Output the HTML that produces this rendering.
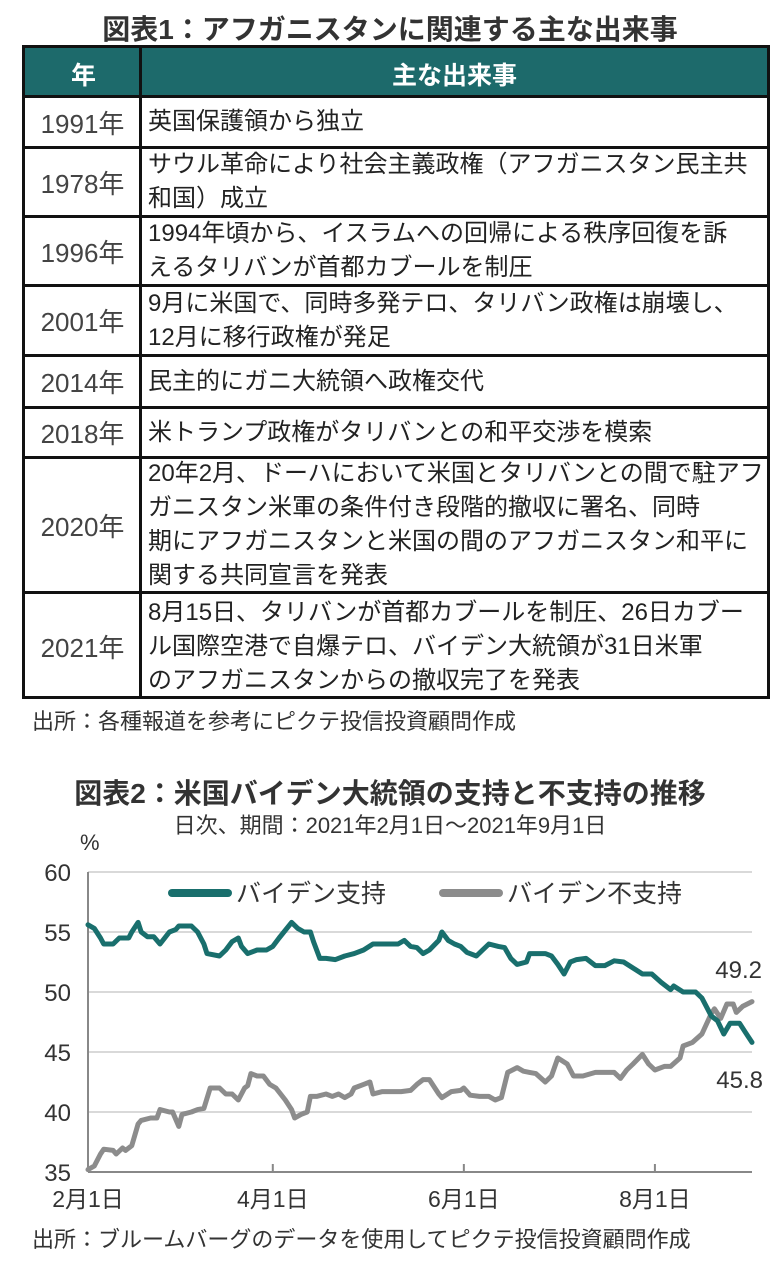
<!DOCTYPE html>
<html><head><meta charset="utf-8">
<style>
body{margin:0;width:780px;height:1266px;background:#fff;position:relative;overflow:hidden;font-family:"Liberation Sans","Noto Sans CJK JP",sans-serif;color:#222}
.t{position:absolute;white-space:nowrap}
.row{position:absolute;left:24px;width:744px;border-bottom:3px solid #111;box-sizing:border-box}
.yr{position:absolute;left:0;top:0;bottom:0;width:117px;display:flex;align-items:center;justify-content:center;font-size:26px;color:#444}
.ev{position:absolute;left:124px;top:0;bottom:0;right:0;display:flex;align-items:center;font-size:24px;line-height:34px;color:#222;white-space:nowrap}
</style></head><body>
<div class="t" style="left:0;width:780px;text-align:center;top:8px;font-size:28px;font-weight:bold;color:#333">図表1：アフガニスタンに関連する主な出来事</div>
<div style="position:absolute;left:22px;top:45px;width:748px;height:654px;border:3px solid #111;box-sizing:border-box"></div>
<div style="position:absolute;left:25px;top:48px;width:742px;height:50px;background:#1d6a6b;border-bottom:3px solid #111;box-sizing:border-box">
 <div class="t" style="left:0;width:117px;text-align:center;top:8px;color:#fff;font-size:25px;font-weight:bold">年</div>
 <div class="t" style="left:117px;right:0;text-align:center;top:8px;color:#fff;font-size:25px;font-weight:bold">主な出来事</div>
</div>
<div style="position:absolute;left:139px;top:45px;width:3px;height:654px;background:#111"></div>
<div class="row" style="top:98px;height:51px"><div class="yr">1991年</div><div class="ev">英国保護領から独立</div></div>
<div class="row" style="top:149px;height:69px"><div class="yr">1978年</div><div class="ev">サウル革命により社会主義政権（アフガニスタン民主共<br>和国）成立</div></div>
<div class="row" style="top:218px;height:69px"><div class="yr">1996年</div><div class="ev">1994年頃から、イスラムへの回帰による秩序回復を訴<br>えるタリバンが首都カブールを制圧</div></div>
<div class="row" style="top:287px;height:70px"><div class="yr">2001年</div><div class="ev">9月に米国で、同時多発テロ、タリバン政権は崩壊し、<br>12月に移行政権が発足</div></div>
<div class="row" style="top:357px;height:52px"><div class="yr">2014年</div><div class="ev">民主的にガニ大統領へ政権交代</div></div>
<div class="row" style="top:409px;height:50px"><div class="yr">2018年</div><div class="ev">米トランプ政権がタリバンとの和平交渉を模索</div></div>
<div class="row" style="top:459px;height:135px"><div class="yr">2020年</div><div class="ev">20年2月、ドーハにおいて米国とタリバンとの間で駐アフ<br>ガニスタン米軍の条件付き段階的撤収に署名、同時<br>期にアフガニスタンと米国の間のアフガニスタン和平に<br>関する共同宣言を発表</div></div>
<div class="row" style="top:594px;height:105px;border-bottom:none"><div class="yr">2021年</div><div class="ev">8月15日、タリバンが首都カブールを制圧、26日カブー<br>ル国際空港で自爆テロ、バイデン大統領が31日米軍<br>のアフガニスタンからの撤収完了を発表</div></div>
<div class="t" style="left:32px;top:704px;font-size:22px;color:#333">出所：各種報道を参考にピクテ投信投資顧問作成</div>

<div class="t" style="left:0;width:780px;text-align:center;top:772px;font-size:28px;font-weight:bold;color:#333">図表2：米国バイデン大統領の支持と不支持の推移</div>
<div class="t" style="left:0;width:780px;text-align:center;top:808px;font-size:22px;color:#333">日次、期間：2021年2月1日～2021年9月1日</div>
<div class="t" style="left:80px;top:830px;font-size:22px;color:#333">%</div>
<svg id="chart" width="780" height="1266" style="position:absolute;left:0;top:0"></svg>
<div class="t" style="left:32px;top:1222px;font-size:22px;color:#333">出所：ブルームバーグのデータを使用してピクテ投信投資顧問作成</div>
<script>
const yTicks=[35,40,45,50,55,60];
const xTickDays=[0,59,120,181];
const xTickLabels=["2月1日","4月1日","6月1日","8月1日"];
const totalDays=212;
const approveDays=[0,2,4,5,8,10,13,14,16,17,19,21,23,26,28,29,33,35,37,38,42,44,46,48,49,51,54,57,59,61,65,67,69,71,72,74,76,79,82,85,88,91,96,99,101,103,105,107,109,112,113,115,117,119,121,124,126,128,131,133,135,137,140,141,146,148,150,152,154,156,159,162,165,168,171,174,177,180,183,186,187,190,194,196,199,201,203,205,208,210,212];
const approveVals=[55.6,55.3,54.5,54.0,54.0,54.5,54.5,55.0,55.8,55.0,54.6,54.6,54.0,55.0,55.2,55.5,55.5,55.0,54.0,53.2,53.0,53.5,54.2,54.5,53.8,53.2,53.5,53.5,53.8,54.5,55.8,55.3,55.0,55.0,54.2,52.8,52.8,52.7,53.0,53.2,53.5,54.0,54.0,54.0,54.3,53.8,53.7,53.2,53.5,54.3,55.0,54.3,54.0,53.8,53.3,53.0,53.5,54.0,53.8,53.7,52.8,52.3,52.5,53.2,53.2,53.0,52.3,51.5,52.5,52.7,52.8,52.2,52.2,52.6,52.5,52.0,51.5,51.5,50.8,50.2,50.5,50.0,50.0,49.5,48.0,47.6,46.5,47.4,47.4,46.6,45.8];
const disDays=[0,2,4,5,8,9,11,12,14,16,17,20,22,23,26,27,29,30,33,35,37,39,42,44,46,48,50,51,52,54,56,58,60,63,65,66,68,70,71,73,76,78,80,82,84,85,88,90,91,94,97,100,103,105,107,109,112,113,116,119,120,122,125,128,130,132,134,137,139,141,143,146,148,150,153,155,158,162,165,168,170,172,174,177,179,181,184,186,189,190,193,196,199,200,202,204,206,207,209,212];
const disVals=[35.2,35.5,36.5,36.9,36.8,36.5,37.0,36.8,37.2,39.0,39.3,39.5,39.5,40.2,40.0,40.0,38.8,39.8,40.0,40.2,40.3,42.0,42.0,41.5,41.5,41.0,42.0,42.2,43.2,43.0,43.0,42.3,42.0,41.0,40.2,39.5,39.8,40.0,41.3,41.3,41.5,41.3,41.5,41.2,41.5,42.0,42.3,42.5,41.5,41.7,41.7,41.7,41.8,42.3,42.7,42.7,41.5,41.2,41.7,41.8,42.0,41.4,41.3,41.3,41.0,41.2,43.3,43.7,43.4,43.3,43.2,42.5,43.0,44.5,44.0,43.0,43.0,43.3,43.3,43.3,42.8,43.5,44.0,44.8,44.0,43.5,43.8,43.8,44.5,45.5,45.8,46.5,48.2,48.6,47.8,49.0,49.0,48.3,48.8,49.2];
const NS="http://www.w3.org/2000/svg";
const svg=document.getElementById('chart');
const X0=88,X1=752,Y0=1172,Y1=872;
const xs=d=>X0+d/totalDays*(X1-X0);
const ys=v=>Y0-(v-35)/25*(Y0-Y1);
function mk(tag,attrs,txt){const e=document.createElementNS(NS,tag);for(const k in attrs)e.setAttribute(k,attrs[k]);if(txt!==undefined)e.textContent=txt;svg.appendChild(e);return e;}
yTicks.forEach(v=>{
  if(v>35){const g=mk('line',{x1:X0,x2:X1,y1:ys(v),y2:ys(v),stroke:'#d9d9d9','stroke-width':2});
  
  }
  const t=mk('text',{x:71,y:ys(v)+9,'text-anchor':'end','font-size':24,fill:'#333','font-family':'Liberation Sans, sans-serif'},String(v));
  
  
});
const ax=mk('line',{x1:X0,x2:X0,y1:Y1,y2:Y0,stroke:'#888','stroke-width':2});


const bx=mk('line',{x1:X0,x2:X1,y1:Y0,y2:Y0,stroke:'#888','stroke-width':2});


xTickDays.forEach((d,i)=>{
  if(i>0){const tk=mk('line',{x1:xs(d),x2:xs(d),y1:Y0,y2:Y0-8,stroke:'#888','stroke-width':2});
  
  }
  const t=mk('text',{x:xs(d),y:Y0+35,'text-anchor':'middle','font-size':23,fill:'#333','font-family':'Liberation Sans, Noto Sans CJK JP, sans-serif'},xTickLabels[i]);
  
  
});
function line(days,vals,color,name){
  const p=days.map((d,i)=>(i?'L':'M')+xs(d).toFixed(1)+','+ys(vals[i]).toFixed(1)).join('');
  const e=mk('path',{d:p,fill:'none',stroke:color,'stroke-width':5,'stroke-linejoin':'round','stroke-linecap':'round'});
  
  
}
line(disDays,disVals,'#8c8c8c','disapprove-line');
line(approveDays,approveVals,'#196f6d','approve-line');
const l1=mk('line',{x1:172,x2:228,y1:893,y2:893,stroke:'#196f6d','stroke-width':8,'stroke-linecap':'round'});


const t1=mk('text',{x:236,y:902,'font-size':25,fill:'#333','font-family':'Liberation Sans, Noto Sans CJK JP, sans-serif'},'バイデン支持');


const l2=mk('line',{x1:443,x2:499,y1:893,y2:893,stroke:'#8c8c8c','stroke-width':8,'stroke-linecap':'round'});


const t2=mk('text',{x:507,y:902,'font-size':25,fill:'#333','font-family':'Liberation Sans, Noto Sans CJK JP, sans-serif'},'バイデン不支持');


const v1=mk('text',{x:762,y:978,'text-anchor':'end','font-size':24,fill:'#333','font-family':'Liberation Sans, sans-serif'},disVals[disVals.length-1].toFixed(1));


const v2=mk('text',{x:763,y:1088,'text-anchor':'end','font-size':24,fill:'#333','font-family':'Liberation Sans, sans-serif'},approveVals[approveVals.length-1].toFixed(1));


</script>
</body></html>
